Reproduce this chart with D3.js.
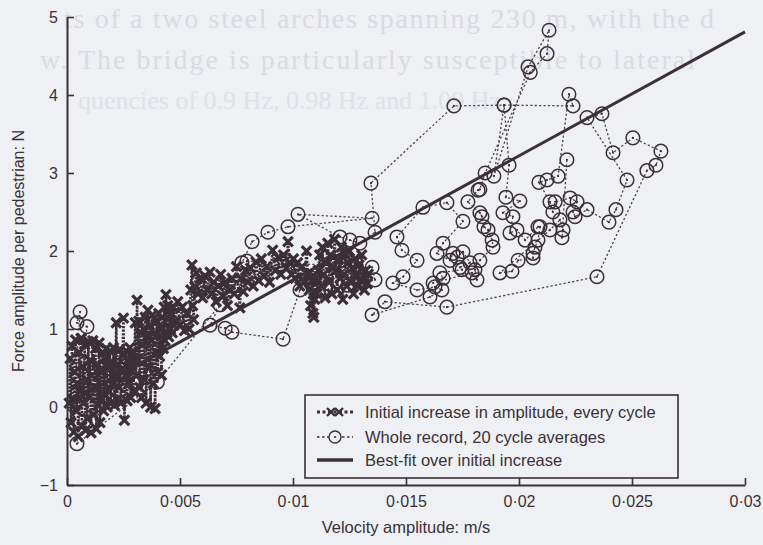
<!DOCTYPE html>
<html><head><meta charset="utf-8">
<script src="https://cdn.jsdelivr.net/npm/d3@7"></script>
<style>
body{margin:0;background:#eef0f4;}
svg{display:block;}
</style>
</head><body>
<svg id="chart" width="763" height="545"></svg>
<script>
// ---------- data ----------
const xTicks = [0, 0.005, 0.01, 0.015, 0.02, 0.025, 0.03];
const yTicks = [-1, 0, 1, 2, 3, 4, 5];
const xTitle = "Velocity amplitude: m/s";
const yTitle = "Force amplitude per pedestrian: N";
const legendLabels = ["Initial increase in amplitude, every cycle", "Whole record, 20 cycle averages", "Best-fit over initial increase"];
const pageGhost = ["ts of a two steel arches spanning 230 m, with the d", "w.  The bridge is particularly susceptible to lateral", "quencies of 0.9 Hz, 0.98 Hz and 1.09 Hz"];

// series 1: every cycle (velocity m/s, force N)
const everyCycle = [
[0.00010,0.05],[0.00014,0.62],[0.00018,-0.20],[0.00022,0.78],[0.00026,0.10],[0.00030,-0.32],[0.00034,0.45],[0.00038,0.86],[0.00042,-0.05],[0.00046,0.30],
[0.00050,-0.38],[0.00054,0.70],[0.00058,0.20],[0.00062,0.88],[0.00066,-0.25],[0.00070,0.52],[0.00074,0.05],[0.00078,0.80],[0.00082,-0.30],[0.00086,0.35],
[0.00090,-0.15],[0.00094,0.84],[0.00098,0.12],[0.00102,0.60],[0.00106,-0.33],[0.00110,0.40],[0.00114,0.85],[0.00118,-0.10],[0.00122,0.25],[0.00126,0.75],
[0.00130,-0.28],[0.00134,0.55],[0.00138,0.02],[0.00142,0.82],[0.00146,-0.20],[0.00150,0.45],[0.00154,0.10],[0.00158,0.70],[0.00162,-0.05],[0.00166,0.62],
[0.00170,0.15],[0.00174,0.75],[0.00178,0.00],[0.00182,0.50],[0.00186,0.20],[0.00190,0.72],[0.00194,0.05],[0.00198,0.58],[0.00202,0.30],[0.00206,0.76],
[0.00210,0.02],[0.00214,0.44],[0.00218,1.08],[0.00222,0.10],[0.00226,0.55],[0.00230,0.25],[0.00234,0.74],[0.00238,0.05],[0.00242,0.48],[0.00246,0.66],
[0.00250,1.14],[0.00254,-0.17],[0.00258,0.40],[0.00262,0.72],[0.00266,0.08],[0.00270,0.60],[0.00274,0.30],[0.00278,0.76],[0.00282,0.12],[0.00286,0.52],
[0.00290,0.70],[0.00294,0.20],[0.00298,0.62],
[0.00302,1.08],[0.00306,0.40],[0.00310,1.37],[0.00314,0.60],[0.00318,1.10],[0.00322,0.25],[0.00326,0.95],[0.00330,0.12],[0.00334,0.80],[0.00338,1.00],
[0.00342,0.35],[0.00346,1.15],[0.00350,0.05],[0.00354,0.90],[0.00358,1.24],[0.00362,0.50],[0.00366,1.05],[0.00370,0.00],[0.00374,0.85],[0.00378,1.18],
[0.00382,0.30],[0.00386,0.95],[0.00390,-0.02],[0.00394,0.70],[0.00398,1.10],[0.00402,0.45],[0.00406,1.20],[0.00410,0.65],[0.00414,1.00],[0.00418,0.41],
[0.00422,1.15],[0.00426,0.75],[0.00430,1.28],[0.00434,0.85],[0.00438,1.44],[0.00442,0.95],[0.00446,1.30],[0.00450,0.90],[0.00454,1.25],[0.00458,1.00],
[0.00462,1.20],[0.00466,0.95],[0.00470,1.28],[0.00474,1.05],
[0.00480,1.10],[0.00490,1.35],[0.00500,1.05],[0.00510,1.28],[0.00520,0.98],[0.00530,1.20],[0.00540,1.00],[0.00548,1.50],[0.00553,1.82],[0.00556,1.30],
[0.00560,1.12],[0.00566,1.55],[0.00572,1.72],[0.00580,1.45],[0.00590,1.65],[0.00600,1.40],[0.00610,1.68],[0.00620,1.50],[0.00633,1.73],[0.00640,1.45],
[0.00650,1.60],[0.00660,1.35],[0.00670,1.55],[0.00680,1.70],[0.00690,1.42],[0.00700,1.60],[0.00710,1.30],[0.00720,1.50],[0.00730,1.65],[0.00740,1.45],
[0.00750,1.80],[0.00765,1.27],[0.00770,1.65],[0.00780,1.48],[0.00790,1.75],
[0.00800,1.60],[0.00812,1.78],[0.00824,1.55],[0.00836,1.86],[0.00848,1.62],[0.00860,1.90],[0.00872,1.68],[0.00884,1.80],[0.00896,1.60],[0.00910,2.01],
[0.00922,1.75],[0.00934,1.92],[0.00946,1.70],[0.00958,1.95],[0.00970,1.78],[0.00978,2.12],[0.00986,1.85],[0.00994,1.70],
[0.01002,1.90],[0.01010,1.65],[0.01020,1.85],[0.01030,1.55],[0.01040,1.80],[0.01050,1.60],[0.01060,2.00],[0.01066,1.70],[0.01072,1.50],[0.01078,1.30],
[0.01084,1.62],[0.01088,1.20],[0.01090,1.45],[0.01092,1.15],[0.01096,1.38],[0.01100,1.65],[0.01106,1.45],[0.01112,1.75],
[0.01118,1.95],[0.01124,1.55],[0.01130,2.05],[0.01136,1.70],[0.01142,1.40],[0.01148,1.85],[0.01154,2.10],[0.01160,1.60],[0.01166,1.95],[0.01172,1.45],
[0.01178,1.80],[0.01184,2.15],[0.01190,1.75],[0.01196,1.50],[0.01202,1.90],[0.01208,1.65],[0.01214,2.05],[0.01220,1.38],[0.01226,1.70],[0.01232,1.95],
[0.01238,1.55],[0.01244,1.85],[0.01250,2.00],[0.01256,1.60],[0.01262,1.78],[0.01268,1.45],[0.01274,1.90],[0.01280,1.70],[0.01286,1.55],[0.01292,1.82],
[0.01298,1.62],[0.01304,1.95],[0.01310,1.68],[0.01316,1.50],[0.01322,1.75],[0.01328,1.58],[0.01332,1.70]
];

// series 2: 20-cycle averages, in record order
const averages = [
[0.00030,0.02],[0.00058,1.22],[0.00044,1.08],[0.00088,1.03],[0.00044,-0.47],[0.00400,0.32],[0.00677,1.31],[0.00633,1.05],[0.00700,1.01],[0.00730,0.96],
[0.00956,0.87],[0.01031,1.50],[0.01088,1.65],[0.01119,1.63],[0.01243,1.56],[0.01363,1.63],[0.01350,1.79],[0.00796,1.87],[0.00774,1.85],[0.00819,2.12],
[0.00889,2.24],[0.00978,2.31],[0.01350,2.42],[0.01022,2.47],[0.01208,2.18],[0.01252,2.14],[0.01296,2.10],[0.01363,2.24],[0.01345,2.87],[0.01712,3.86],
[0.01934,3.87],[0.02239,3.86],[0.02221,4.01],[0.02173,2.96],[0.02124,2.91],[0.02088,2.88],[0.02137,2.63],[0.02150,2.50],[0.02160,2.63],[0.02226,2.68],
[0.02257,2.63],[0.02239,2.50],[0.02248,2.44],[0.02301,2.53],[0.02398,2.37],[0.02429,2.53],[0.02478,2.91],[0.02301,3.71],[0.02367,3.76],[0.02416,3.26],
[0.02504,3.45],[0.02628,3.28],[0.02606,3.10],[0.02566,3.03],[0.02345,1.67],[0.01681,1.28],[0.01407,1.35],[0.01350,1.18],[0.01606,1.41],[0.01659,1.50],
[0.01628,1.54],[0.01549,1.50],[0.01442,1.59],[0.01487,1.67],[0.01549,1.88],[0.01482,2.01],[0.01460,2.18],[0.01575,2.56],[0.01681,2.62],[0.01752,2.38],
[0.01664,2.10],[0.01637,1.97],[0.01695,1.88],[0.01708,1.97],[0.01726,1.92],[0.01752,1.99],[0.01783,1.85],[0.01739,1.79],[0.01748,1.76],[0.01650,1.72],
[0.01664,1.65],[0.01620,1.59],[0.01792,1.72],[0.01814,1.63],[0.01805,1.76],[0.01827,1.88],[0.01885,2.05],[0.01881,2.14],[0.01863,2.27],[0.01845,2.31],
[0.01836,2.44],[0.01827,2.49],[0.01774,2.63],[0.01819,2.78],[0.01827,2.79],[0.01850,3.00],[0.02050,4.29],[0.02124,4.53],[0.02133,4.83],[0.02040,4.36],
[0.01889,2.96],[0.01934,3.87],[0.01956,3.10],[0.01942,2.69],[0.02004,2.64],[0.01929,2.49],[0.01973,2.44],[0.01960,2.23],[0.01991,2.27],[0.02027,2.14],
[0.02084,2.31],[0.02093,2.31],[0.02084,2.14],[0.02071,2.05],[0.02062,1.97],[0.02062,1.91],[0.01996,1.88],[0.01969,1.74],[0.01916,1.72],[0.02137,2.27],
[0.02181,2.40],[0.02195,2.27],[0.02190,2.17],[0.02212,3.17]
];

// series 3: best-fit line end points
const fitX = [0, 0.03];
const fitY = [0.04, 4.81];

// ---------- drawing ----------
const ink = "#3b3037";
const svg = d3.select("#chart");
const x = d3.scaleLinear().domain([0, 0.03]).range([67, 745]);
const y = d3.scaleLinear().domain([-1, 5]).range([485, 17]);
const xFmt = d => d === 0 ? "0" : String(+d.toFixed(3)).replace(".", "\u00B7");
const yFmt = d => d < 0 ? "\u2212" + Math.abs(d) : String(d);

// faint show-through text of the printed page
const ghostX = [64, 40, 78], ghostY = [28, 69, 109], ghostSize = [28, 28, 26];
const ghostG = svg.append("g");
pageGhost.forEach((t, i) => {
  const el = ghostG.append("text")
    .attr("x", ghostX[i]).attr("y", ghostY[i])
    .attr("font-family", "Liberation Serif, serif")
    .attr("font-size", ghostSize[i])
    .attr("fill", i === 2 ? "#e0e1e7" : "#dadbe2")
    .text(t);
  if (i === 0) el.attr("textLength", 650).attr("lengthAdjust", "spacing");
  if (i === 1) el.attr("textLength", 655).attr("lengthAdjust", "spacing");
});

// axes
const xAxis = svg.append("g").attr("transform", "translate(0,485)")
  .call(d3.axisBottom(x).tickValues(xTicks).tickFormat(xFmt).tickSizeInner(-7).tickSizeOuter(0).tickPadding(11));
const yAxis = svg.append("g").attr("transform", "translate(67,0)")
  .call(d3.axisLeft(y).tickValues(yTicks).tickFormat(yFmt).tickSizeInner(-7).tickSizeOuter(0).tickPadding(9));
[xAxis, yAxis].forEach(g => {
  g.select(".domain").attr("stroke", ink).attr("stroke-width", 2);
  g.selectAll(".tick line").attr("stroke", ink).attr("stroke-width", 1.6);
  g.selectAll(".tick text").attr("fill", ink).attr("font-family", "Liberation Sans, Arial, sans-serif").attr("font-size", 16);
  g.attr("font-family", null).attr("font-size", null);
});

svg.append("text").attr("x", 406).attr("y", 533).attr("text-anchor", "middle")
  .attr("font-family", "Liberation Sans, Arial, sans-serif").attr("font-size", 16.5).attr("fill", ink).text(xTitle);
svg.append("text").attr("transform", "translate(24,251) rotate(-90)").attr("text-anchor", "middle")
  .attr("font-family", "Liberation Sans, Arial, sans-serif").attr("font-size", 16).attr("fill", ink).text(yTitle);

const line = d3.line().x(d => x(d[0])).y(d => y(d[1]));
const crossPath = "M-4.8,-4.8L4.8,4.8M-4.8,4.8L4.8,-4.8";

// series 1
svg.append("path").datum(everyCycle).attr("d", line).attr("fill", "none")
  .attr("stroke", ink).attr("stroke-width", 2.6).attr("stroke-dasharray", "2.2,1.4");
svg.append("g").selectAll("path").data(everyCycle).join("path")
  .attr("transform", d => `translate(${x(d[0])},${y(d[1])})`)
  .attr("d", crossPath).attr("stroke", ink).attr("stroke-width", 3.2).attr("fill", "none");

// series 2
svg.append("path").datum(averages).attr("d", line).attr("fill", "none")
  .attr("stroke", ink).attr("stroke-width", 1.3).attr("stroke-dasharray", "2.2,2.2").attr("opacity", 0.9);
const circ = svg.append("g").selectAll("g").data(averages).join("g")
  .attr("transform", d => `translate(${x(d[0])},${y(d[1])})`);
circ.append("circle").attr("r", 6.8).attr("fill", "none").attr("stroke", ink).attr("stroke-width", 1.5);
circ.append("circle").attr("r", 1.1).attr("fill", ink);

// series 3
const fitData = fitX.map((v,i) => [v, fitY[i]]);
svg.append("path").datum(fitData).attr("d", line).attr("stroke", ink).attr("stroke-width", 3).attr("fill", "none");

// legend
const lg = svg.append("g");
lg.append("rect").attr("x", 305).attr("y", 395).attr("width", 373).attr("height", 83)
  .attr("fill", "#eef0f4").attr("stroke", ink).attr("stroke-width", 1.6);
const rowsY = [412, 437, 460];
lg.selectAll("text").data(legendLabels).join("text")
  .attr("x", 365).attr("y", (d,i) => rowsY[i]).attr("dy", "0.35em")
  .attr("font-family", "Liberation Sans, Arial, sans-serif").attr("font-size", 16.5).attr("fill", ink).text(d => d);
// row 1 symbol
lg.append("line").attr("x1", 317).attr("x2", 353).attr("y1", rowsY[0]).attr("y2", rowsY[0])
  .attr("stroke", ink).attr("stroke-width", 3).attr("stroke-dasharray", "3,2.5");
[331, 339].forEach(cx => lg.append("path").attr("transform", `translate(${cx},${rowsY[0]})`)
  .attr("d", "M-4,-4L4,4M-4,4L4,-4").attr("stroke", ink).attr("stroke-width", 2.4).attr("fill", "none"));
// row 2 symbol
lg.append("line").attr("x1", 317).attr("x2", 353).attr("y1", rowsY[1]).attr("y2", rowsY[1])
  .attr("stroke", ink).attr("stroke-width", 1.3).attr("stroke-dasharray", "2.5,2.5");
lg.append("circle").attr("cx", 335).attr("cy", rowsY[1]).attr("r", 6).attr("fill", "#eef0f4").attr("stroke", ink).attr("stroke-width", 1.4);
lg.append("circle").attr("cx", 335).attr("cy", rowsY[1]).attr("r", 1.1).attr("fill", ink);
// row 3 symbol
lg.append("line").attr("x1", 317).attr("x2", 353).attr("y1", rowsY[2]).attr("y2", rowsY[2])
  .attr("stroke", ink).attr("stroke-width", 3.5);
</script>
</body></html>
